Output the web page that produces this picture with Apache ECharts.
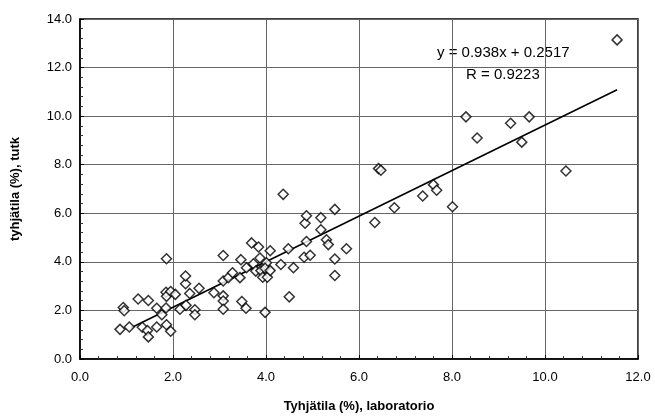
<!DOCTYPE html>
<html>
<head>
<meta charset="utf-8">
<script src="https://cdn.jsdelivr.net/npm/echarts@6/dist/echarts.min.js"></script>
<style>
  html, body { margin: 0; padding: 0; background: #fff; }
  #chart { width: 655px; height: 418px; }
</style>
</head>
<body>
<div id="chart"></div>
<script>
// laboratorio (x), tutk (y)
const points = [
  [0.86, 1.22], [1.06, 1.32], [0.93, 2.12], [0.95, 1.99], [1.25, 2.47],
  [1.47, 2.41], [1.34, 1.31], [1.45, 1.17], [1.47, 0.91], [1.65, 2.09],
  [1.65, 1.32], [1.76, 1.82], [1.85, 2.10], [1.85, 2.75], [1.86, 2.58],
  [1.95, 2.78], [2.05, 2.66], [1.86, 4.13], [1.86, 1.41], [1.95, 1.14],
  [2.15, 2.05], [2.28, 2.21], [2.27, 3.10], [2.27, 3.42], [2.36, 2.70],
  [2.47, 2.03], [2.47, 1.82], [2.56, 2.91], [2.88, 2.73], [3.08, 4.26],
  [3.08, 3.21], [3.08, 2.60], [3.08, 2.39], [3.08, 2.05], [3.19, 3.35],
  [3.28, 3.55], [3.44, 3.35], [3.46, 4.09], [3.48, 2.37], [3.57, 2.09],
  [3.58, 3.76], [3.69, 4.78], [3.73, 3.92], [3.78, 3.62], [3.84, 4.61],
  [3.87, 4.16], [3.89, 3.64], [3.93, 3.37], [3.98, 1.92], [4.01, 3.96],
  [3.98, 3.74], [4.03, 3.37], [4.09, 4.46], [4.09, 3.64], [4.32, 3.89],
  [4.37, 6.78], [4.48, 4.54], [4.50, 2.56], [4.59, 3.76], [4.82, 4.19],
  [4.84, 5.59], [4.87, 5.90], [4.87, 4.84], [4.95, 4.27], [5.18, 5.82],
  [5.18, 5.32], [5.30, 4.91], [5.34, 4.71], [5.48, 6.16], [5.48, 4.12],
  [5.48, 3.44], [5.73, 4.54], [6.34, 5.62], [6.42, 7.84], [6.47, 7.77],
  [6.76, 6.23], [7.37, 6.71], [7.60, 7.18], [7.67, 6.95], [8.01, 6.27],
  [8.30, 9.97], [8.54, 9.10], [9.26, 9.71], [9.50, 8.93], [9.66, 9.97],
  [10.45, 7.74], [11.55, 13.14]
];

// trendline from the picture
const slope = 0.938;
const intercept = 0.2517;
const trendX = [1.1, 11.55];
const eqText = ['y = 0.938x + 0.2517', 'R = 0.9223'];

const xName = 'Tyhjätila (%), laboratorio';
const yName = 'tyhjätila (%), tutk';

const trend = trendX.map(x => [x, slope * x + intercept]);

const chart = echarts.init(document.getElementById('chart'));

const font = 'Liberation Sans, Arial, sans-serif';

chart.setOption({
  animation: false,
  backgroundColor: '#fff',
  grid: {
    left: 80, right: 17, top: 19, bottom: 56,
    show: true, borderColor: '#000', borderWidth: 1.5
  },
  xAxis: {
    type: 'value', min: 0, max: 12, interval: 2,
    name: xName, nameLocation: 'middle', nameGap: 41,
    nameTextStyle: { fontFamily: font, fontSize: 13, fontWeight: 'bold', color: '#000' },
    axisLine: { show: true, onZero: false, lineStyle: { color: '#000', width: 1.5 } },
    axisTick: { show: true, inside: true, length: 4, lineStyle: { color: '#000' } },
    minorTick: { show: true, splitNumber: 5, length: 3, lineStyle: { color: '#333' } },
    axisLabel: { fontFamily: font, fontSize: 13, color: '#000', margin: 12,
      formatter: v => v.toFixed(1) },
    splitLine: { show: true, lineStyle: { color: '#666', width: 1 } }
  },
  yAxis: {
    type: 'value', min: 0, max: 14, interval: 2,
    name: yName, nameLocation: 'middle', nameGap: 58,
    nameTextStyle: { fontFamily: font, fontSize: 13, fontWeight: 'bold', color: '#000' },
    axisLine: { show: true, onZero: false, lineStyle: { color: '#000', width: 1.5 } },
    axisTick: { show: true, inside: true, length: 4, lineStyle: { color: '#000' } },
    minorTick: { show: true, splitNumber: 5, length: 3, lineStyle: { color: '#333' } },
    axisLabel: { fontFamily: font, fontSize: 13, color: '#000', margin: 8,
      formatter: v => v.toFixed(1) },
    splitLine: { show: true, lineStyle: { color: '#666', width: 1 } }
  },
  series: [
    {
      type: 'line',
      data: trend,
      symbol: 'none',
      lineStyle: { color: '#000', width: 1.6 },
      z: 3
    },
    {
      type: 'scatter',
      data: points,
      symbol: 'diamond',
      symbolSize: [10, 10],
      itemStyle: { color: '#fff', borderColor: '#000', borderWidth: 1.5 },
      z: 4
    }
  ],
  graphic: [
    {
      type: 'text', left: 437, top: 45,
      style: { text: eqText[0], fontFamily: font, fontSize: 15, fill: '#000' }
    },
    {
      type: 'text', left: 466, top: 67,
      style: { text: eqText[1], fontFamily: font, fontSize: 15, fill: '#000' }
    }
  ]
});
</script>
</body>
</html>
